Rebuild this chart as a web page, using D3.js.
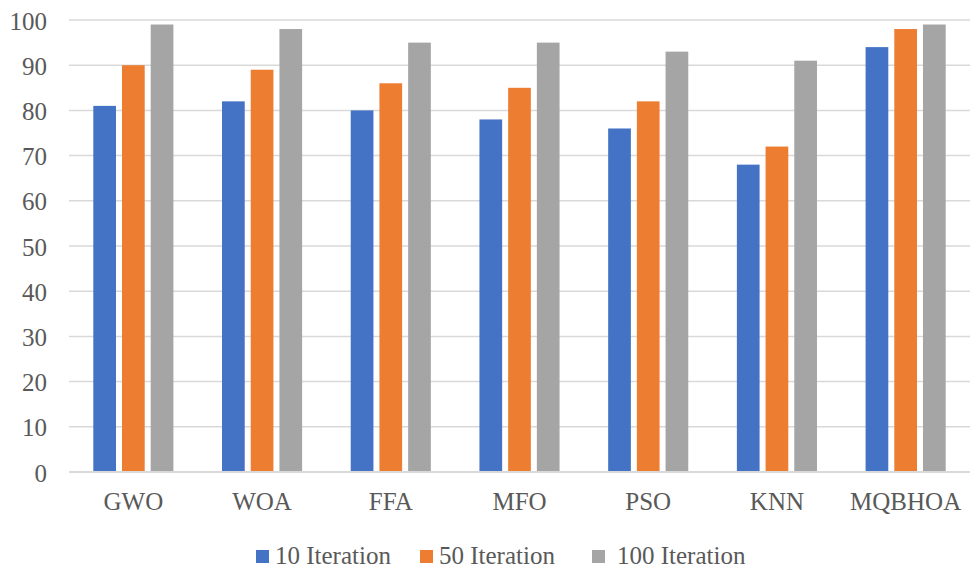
<!DOCTYPE html>
<html><head><meta charset="utf-8">
<script src="https://cdn.jsdelivr.net/npm/d3@7"></script>
<style>body{margin:0;background:#fff} text{font-family:"Liberation Serif","Times New Roman","DejaVu Serif",serif;}</style>
</head><body>
<svg id="c" width="972" height="570"></svg>
<script>
const categories = ["GWO","WOA","FFA","MFO","PSO","KNN","MQBHOA"];
const seriesNames = ["10 Iteration","50 Iteration","100 Iteration"];
const iter10 = [81,82,80,78,76,68,94];
const iter50 = [90,89,86,85,82,72,98];
const iter100 = [99,98,95,95,93,91,99];
const yTicks = [0,10,20,30,40,50,60,70,80,90,100];
const colors = ["#4472C4","#ED7D31","#A5A5A5"];
const series = [iter10, iter50, iter100];

const svg = d3.select("#c");
const m = {l:69, r:970, t:20, b:472};
const x = d3.scaleBand().domain(categories).range([m.l, m.r]).paddingInner(0).paddingOuter(0);
const y = d3.scaleLinear().domain([0,100]).range([m.b, m.t]);
const barW = 22.7, step = 28.7;
const fs = 25;

svg.append("g").selectAll("line").data(yTicks.filter(d=>d>0)).join("line")
  .attr("x1", m.l).attr("x2", m.r)
  .attr("y1", d=>y(d)).attr("y2", d=>y(d))
  .attr("stroke","#d9d9d9").attr("stroke-width",1.5);

svg.append("g").selectAll("text").data(yTicks).join("text")
  .attr("x", 47).attr("y", d=>y(d)+9.5)
  .attr("text-anchor","end")
  .attr("font-size", fs).attr("fill","#595959")
  .text(d=>d);

series.forEach((vals, si) => {
  svg.append("g").selectAll("rect").data(vals).join("rect")
    .attr("x", (d,i)=> x(categories[i]) + x.bandwidth()/2 + (si-1)*step - barW/2)
    .attr("width", barW)
    .attr("y", d=>y(d))
    .attr("height", d=> y(0)-y(d))
    .attr("fill", colors[si]);
});

svg.append("line").attr("x1", m.l).attr("x2", m.r).attr("y1", y(0)).attr("y2", y(0))
  .attr("stroke","#d9d9d9").attr("stroke-width",2);

svg.append("g").selectAll("text").data(categories).join("text")
  .attr("x", d=> x(d)+x.bandwidth()/2).attr("y", 510)
  .attr("text-anchor","middle")
  .attr("font-size", fs).attr("fill","#595959")
  .text(d=>d);

const legX = [256, 420, 592];
const legTX = [275, 439, 617];
const lg = svg.append("g");
seriesNames.forEach((n,i)=>{
  lg.append("rect").attr("x", legX[i]).attr("y", 550).attr("width",13).attr("height",13).attr("fill",colors[i]);
  lg.append("text").attr("x", legTX[i]).attr("y", 564)
    .attr("font-size", fs).attr("fill","#595959").text(n);
});
</script>
</body></html>
